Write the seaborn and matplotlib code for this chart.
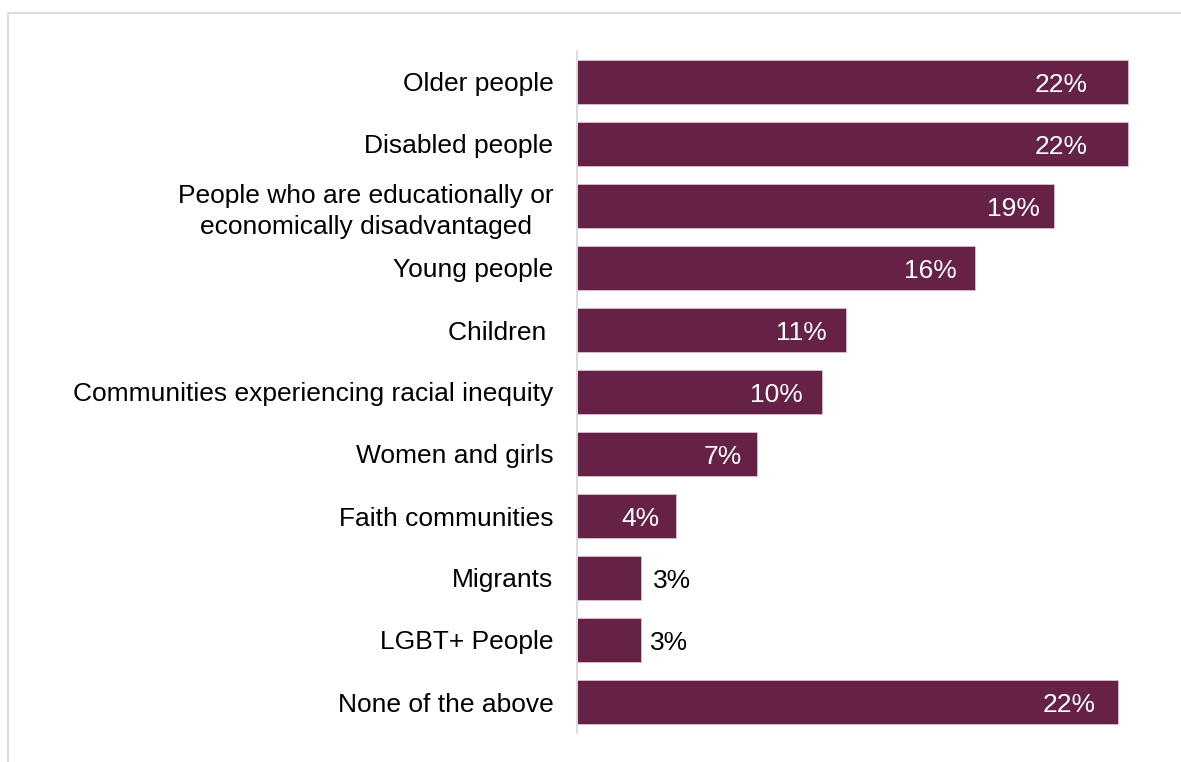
import matplotlib
matplotlib.use("Agg")
import matplotlib.pyplot as plt
import seaborn as sns
import pandas as pd
from matplotlib.lines import Line2D

groups = [
    "Older people",
    "Disabled people",
    "People who are educationally or\neconomically disadvantaged",
    "Young people",
    "Children ",
    "Communities experiencing racial inequity",
    "Women and girls",
    "Faith communities",
    "Migrants",
    "LGBT+ People",
    "None of the above",
]
shares = [22.0, 22.0, 19.05, 15.9, 10.74, 9.78, 7.19, 3.95, 2.56, 2.56, 21.6]

# value label placement: pixels inside the bar end (positive) or beyond it (negative)
label_inset_px = [40, 40, 14, 18, 19, 19, 15, 16, -12, -9, 22]

BAR = "#662246"
RULE = "#d9d9d9"
FS = 19

sns.set_style("white")
plt.rcParams["font.family"] = ["Liberation Sans", "DejaVu Sans"]

W, H = 1181, 762
fig = plt.figure(figsize=(W / 100, H / 100), dpi=100)
ax_l, ax_r, ax_t, ax_b = 577, 1160, 51, 733
ax = fig.add_axes([ax_l / W, 1 - ax_b / H, (ax_r - ax_l) / W, (ax_b - ax_t) / H])

df = pd.DataFrame({"group": groups, "share": shares})
sns.barplot(data=df, x="share", y="group", orient="h", color=BAR, saturation=1,
            width=0.71, edgecolor="#e3c6d5", linewidth=0.5, ax=ax)

ax.set_xlim(0, 23.28)
ax.set_ylim(len(groups) - 0.5, -0.5)
ax.set_xlabel("")
ax.set_ylabel("")
ax.xaxis.set_visible(False)
for s in ("top", "right", "bottom"):
    ax.spines[s].set_visible(False)
ax.spines["left"].set_color(RULE)
ax.spines["left"].set_linewidth(1.3)
ax.tick_params(axis="y", length=0, pad=17, labelsize=FS, labelcolor="black")
for lbl in ax.get_yticklabels():
    lbl.set_multialignment("center")
    lbl.set_linespacing(1.35)

for i, (v, inset) in enumerate(zip(shares, label_inset_px)):
    inside = inset > 0
    ax.annotate(f"{v:.0f}%", xy=(v, i), xytext=(-inset, 0), textcoords="offset pixels",
                ha="right" if inside else "left", va="center_baseline",
                color="white" if inside else "black", fontsize=FS)

# light border round the chart area
fig.add_artist(Line2D([8 / W, 1], [1 - 13 / H, 1 - 13 / H], transform=fig.transFigure,
                      color=RULE, lw=1.3))
fig.add_artist(Line2D([8 / W, 8 / W], [0, 1 - 13 / H], transform=fig.transFigure,
                      color=RULE, lw=1.3))

fig.savefig("out.png", dpi=100)
